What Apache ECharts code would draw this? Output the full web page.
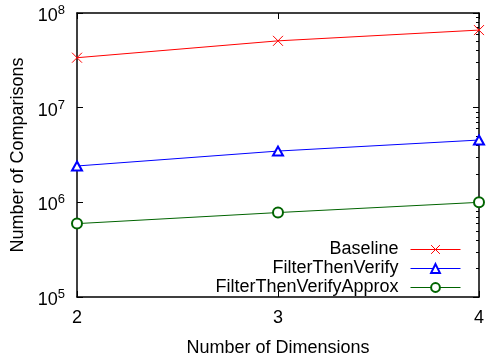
<!DOCTYPE html>
<html>
<head>
<meta charset="utf-8">
<script src="https://cdn.jsdelivr.net/npm/echarts@6/dist/echarts.min.js"></script>
<style>
  html, body { margin: 0; padding: 0; background: #fff; }
  #chart { width: 487px; height: 362px; }
</style>
</head>
<body>
<div id="chart"></div>
<script>
// data
const dimensions = [2, 3, 4];
const baseline = [3.37e7, 5.08e7, 6.6e7];
const filterThenVerify = [2.42e6, 3.48e6, 4.55e6];
const filterThenVerifyApprox = [5.96e5, 7.8e5, 1.0e6];
const seriesNames = ['Baseline', 'FilterThenVerify', 'FilterThenVerifyApprox'];

// minor ticks 2..9 inside each decade
const minorTicks = [];
[1e5, 1e6, 1e7].forEach(function (d) {
    for (let k = 2; k <= 9; k++) minorTicks.push(k * d);
});

const font = 'Liberation Sans, Arial, sans-serif';
const pairs = (ys) => dimensions.map((x, i) => [x, ys[i]]);

const myChart = echarts.init(document.getElementById('chart'));

const yBase = {
    type: 'log',
    logBase: 10,
    min: 1e5,
    max: 1e8,
    splitLine: { show: false },
    axisLine: { show: true, lineStyle: { color: '#000', width: 1.5 } },
};

myChart.setOption({
    animation: false,
    grid: { left: 77, right: 4, top: 13, bottom: 63 },
    legend: {
        data: seriesNames,
        orient: 'vertical',
        align: 'right',
        right: 26,
        top: 240,
        padding: 0,
        itemGap: 0,
        itemWidth: 50,
        itemHeight: 11,
        lineStyle: { width: 1 },
        itemStyle: { borderWidth: 1 },
        textStyle: { fontFamily: font, fontSize: 18, lineHeight: 19, color: '#000', padding: [0, 7, 0, 0] },
    },
    xAxis: [
        {
            type: 'value',
            min: 2,
            max: 4,
            interval: 1,
            name: 'Number of Dimensions',
            nameLocation: 'middle',
            nameGap: 42,
            nameTextStyle: { fontFamily: font, fontSize: 18, color: '#000' },
            axisLine: { lineStyle: { color: '#000', width: 1.5 } },
            axisTick: { inside: true, length: 6, lineStyle: { color: '#000' } },
            axisLabel: { fontFamily: font, fontSize: 18, color: '#000', margin: 12 },
            splitLine: { show: false },
        },
        {
            type: 'value',
            position: 'top',
            min: 2,
            max: 4,
            interval: 1,
            axisLine: { lineStyle: { color: '#000', width: 1.5 } },
            axisTick: { inside: true, length: 6, lineStyle: { color: '#000' } },
            axisLabel: { show: false },
            splitLine: { show: false },
        },
    ],
    yAxis: [
        Object.assign({}, yBase, {
            name: 'Number of Comparisons',
            nameLocation: 'middle',
            nameGap: 44,
            nameTextStyle: { fontFamily: font, fontSize: 18, color: '#000' },
            axisTick: { inside: true, length: 6, lineStyle: { color: '#000' } },
            axisLabel: {
                margin: 12,
                formatter: function (v) {
                    return '{b|10}{s|' + Math.round(Math.log10(v)) + '}';
                },
                rich: {
                    b: { fontFamily: font, fontSize: 18, lineHeight: 20, color: '#000', padding: [6, 0, 0, 0] },
                    s: { fontFamily: font, fontSize: 13, lineHeight: 13, color: '#000', verticalAlign: 'top', padding: [1, 0, 0, 0] },
                },
            },
        }),
        Object.assign({}, yBase, {
            position: 'right',
            axisTick: { inside: true, length: 6, lineStyle: { color: '#000' } },
            axisLabel: { show: false },
        }),
        // minor ticks, left and right
        Object.assign({}, yBase, {
            axisLine: { show: false },
            axisTick: { inside: true, length: 3, customValues: minorTicks, lineStyle: { color: '#000' } },
            axisLabel: { show: false },
        }),
        Object.assign({}, yBase, {
            position: 'right',
            axisLine: { show: false },
            axisTick: { inside: true, length: 3, customValues: minorTicks, lineStyle: { color: '#000' } },
            axisLabel: { show: false },
        }),
    ],
    series: [
        {
            name: 'Baseline',
            type: 'line',
            data: pairs(baseline),
            symbol: 'path://M0,0L10,10M10,0L0,10',
            symbolSize: 10,
            lineStyle: { color: '#ff0000', width: 1 },
            itemStyle: { color: '#ff0000', borderColor: '#ff0000', borderWidth: 1 },
        },
        {
            name: 'FilterThenVerify',
            type: 'line',
            data: pairs(filterThenVerify),
            symbol: 'emptyTriangle',
            symbolSize: [10, 9],
            lineStyle: { color: '#0000ff', width: 1 },
            itemStyle: { color: '#0000ff', borderWidth: 1.2 },
        },
        {
            name: 'FilterThenVerifyApprox',
            type: 'line',
            data: pairs(filterThenVerifyApprox),
            symbol: 'emptyCircle',
            symbolSize: 10,
            lineStyle: { color: '#006400', width: 1 },
            itemStyle: { color: '#006400', borderWidth: 1.2 },
        },
    ],
});
</script>
</body>
</html>
